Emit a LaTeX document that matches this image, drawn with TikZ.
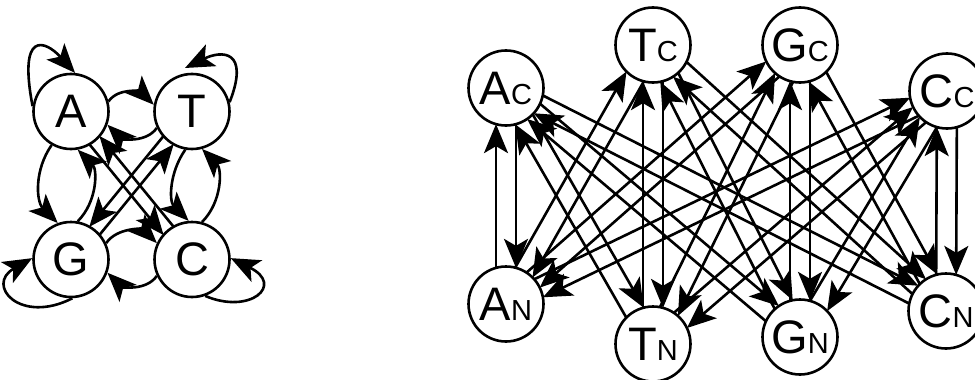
\documentclass[tikz,border=0pt]{standalone}
\usepackage{fontspec}
\setmainfont{Liberation Sans}
\usetikzlibrary{arrows.meta,calc}
\newcommand\bigf{\fontsize{47}{47}\selectfont}
\newcommand\subl[1]{{\fontsize{29}{29}\selectfont #1}}
% #1 source, #2 target, #3 offset, #4 inner distance, #5/#6 side angles
\newcommand\dedge[6]{%
  \path ($(#1.center)!#3!#5:(#2.center)$) coordinate (s1)
        ($(#2.center)!#3!#6:(#1.center)$) coordinate (t1);
  \draw[arr] ($(s1)!#4!(t1)$) -- ($(t1)!#4!(s1)$);
}
\tikzset{
  circ/.style={circle, draw, line width=2.6pt, minimum size=75pt, inner sep=0pt, font=\bigf},
  arr/.style={line width=2.6pt, -{Stealth[length=29pt,width=24pt,inset=7pt]}},
}
\begin{document}
\begin{tikzpicture}[x=1pt,y=-1pt]
\useasboundingbox (0,0) rectangle (975,380);
% ---------- left diagram ----------
\node[circ] (A) at (71,111.5) {A};
\node[circ] (T) at (192,111.5) {T};
\node[circ] (G) at (71,259.5) {G};
\node[circ] (C) at (192,259.5) {C};
% neighbour curves
\draw[arr] (A.15) to[out=55, in=135] (T.170);
\draw[arr] (T.205) to[out=235, in=-45] (A.-20);
\draw[arr] (A.240) to[out=235, in=135] (G.110);
\draw[arr] (G.80) to[out=45, in=-45] (A.-80);
\draw[arr] (T.-100) to[out=235, in=135] (C.95);
\draw[arr] (C.75) to[out=45, in=-45] (T.-75);
\draw[arr] (G.25) to[out=55, in=135] (C.155);
\draw[arr] (C.205) to[out=235, in=-45] (G.-20);
% diagonals
\dedge{A}{C}{6.5pt}{36.9pt}{-90}{90}
\dedge{C}{A}{6.5pt}{36.9pt}{-90}{90}
\dedge{T}{G}{6.5pt}{36.9pt}{-90}{90}
\dedge{G}{T}{6.5pt}{36.9pt}{-90}{90}
% self loops
\draw[arr] (A.172) .. controls ($(A.center)+(-53,-81.5)$) and ($(A.center)+(-26,-71.5)$) .. (A.84);
\draw[arr] (T.14) .. controls ($(T.center)+(58,-61.5)$) and ($(T.center)+(30,-61.5)$) .. ($(T.center)+(-7,-43.5)$);
\draw[arr] (G.-88) .. controls ($(G.center)+(-51,65.5)$) and ($(G.center)+(-86,25.5)$) .. (G.178);
\draw[arr] (C.-70) .. controls ($(C.center)+(58,55.5)$) and ($(C.center)+(93,25.5)$) .. (C.2);
% ---------- right diagram ----------
\node[circ] (Ac) at (506,88) {A\subl{C}};
\node[circ] (Tc) at (653,45) {T\subl{C}};
\node[circ] (Gc) at (800,45) {G\subl{C}};
\node[circ] (Cc) at (947,91) {C\subl{C}};
\node[circ] (An) at (506,304) {A\subl{N}};
\node[circ] (Tn) at (653,344) {T\subl{N}};
\node[circ] (Gn) at (800,337) {G\subl{N}};
\node[circ] (Cn) at (946,311) {C\subl{N}};
\foreach \p in {A,T,G,C}{
  \foreach \q in {A,T,G,C}{
    \dedge{\p c}{\q n}{10pt}{36.14pt}{90}{-90}
    \dedge{\q n}{\p c}{10pt}{36.14pt}{90}{-90}
  }
}
\end{tikzpicture}
\end{document}
